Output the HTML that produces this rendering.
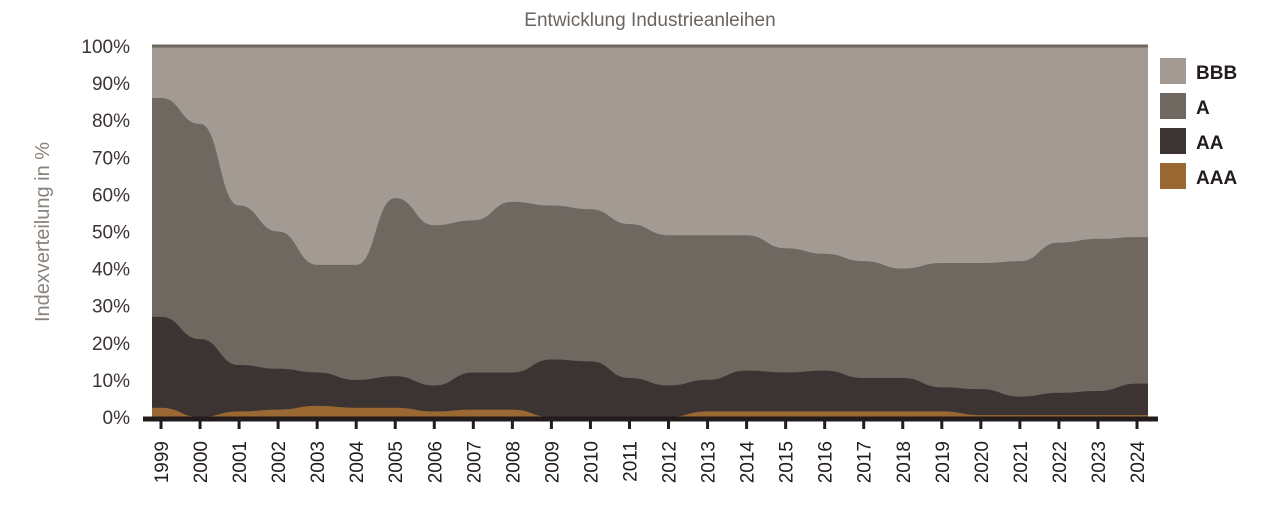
<!DOCTYPE html>
<html><head><meta charset="utf-8"><style>
body{margin:0;background:#fff;}
svg{display:block;font-family:"Liberation Sans",sans-serif;}
</style></head><body>
<svg id="chart" width="1264" height="510">
<text x="650" y="26" text-anchor="middle" font-size="19" fill="#6b6460">Entwicklung Industrieanleihen</text>
<text transform="translate(49,232) rotate(-90)" text-anchor="middle" font-size="20" fill="#8a827c">Indexverteilung in %</text>
<g id="areas"></g><g id="axes"></g><g id="legend"></g>
</svg>
<script>
const years=[1999,2000,2001,2002,2003,2004,2005,2006,2007,2008,2009,2010,2011,2012,2013,2014,2015,2016,2017,2018,2019,2020,2021,2022,2023,2024];
const aaa=[2.5,0,1.5,2,3,2.5,2.5,1.5,2,2,0,0,0,0,1.5,1.5,1.5,1.5,1.5,1.5,1.5,0.5,0.5,0.5,0.5,0.5];
const aa=[24.5,21,12.5,11,9,7.5,8.5,7,10,10,15.5,15,10.5,8.5,8.5,11,10.5,11,9,9,6.5,7,5,6,6.5,8.5];
const a=[59,58,43,37,29,31,48,43.2,41,46,41.5,41,41.5,40.5,39,36.5,33.5,31.5,31.5,29.5,33.5,34,36.5,40.5,41,39.5];
const bbb=[14,21,43,50,59,59,41,48.3,47,42,43,44,48,51,51,51,54.5,56,58,60,58.5,58.5,58,53,52,51.5];
const yTicks=[0,10,20,30,40,50,60,70,80,90,100];
const series=[{n:'BBB',v:bbb,c:'#a29a93'},{n:'A',v:a,c:'#6e6861'},{n:'AA',v:aa,c:'#3c3333'},{n:'AAA',v:aaa,c:'#9a6833'}];
const x0=152,x1=1148;
const xs=i=>161+i*(1137-161)/(years.length-1);
const ys=v=>417-v*3.71;
const NS='http://www.w3.org/2000/svg';
const areas=document.getElementById('areas'),axes=document.getElementById('axes'),leg=document.getElementById('legend');
function mk(t,at,p){const e=document.createElementNS(NS,t);for(const k in at)e.setAttribute(k,at[k]);p.appendChild(e);return e;}
// stacked cumulative
const stack=['AAA','AA','A','BBB'];
const order=[series[3],series[2],series[1],series[0]];
let base=years.map(()=>0);
const layers=[];
order.forEach(s=>{const top=base.map((b,i)=>b+s.v[i]);layers.push({s,lo:base,hi:top});base=top;});
function line(vals){let pts=[[x0,ys(vals[0])]];vals.forEach((v,i)=>pts.push([xs(i),ys(v)]));pts.push([x1,ys(vals[vals.length-1])]);
 let d='M'+pts[0].join(',');
 for(let i=1;i<pts.length;i++){const p=pts[i-1],q=pts[i],m=(p[0]+q[0])/2;d+=` C${m},${p[1]} ${m},${q[1]} ${q[0]},${q[1]}`;}return d;}
layers.slice().reverse().forEach(L=>{
 const d=line(L.hi)+` L${x1},417 L${x0},417 Z`;
 const p=mk('path',{d,fill:L.s.c},areas);
 
 
});
const tl=mk('line',{x1:x0,x2:x1,y1:ys(100),y2:ys(100),stroke:'#6e6861','stroke-width':3},axes);

yTicks.forEach(t=>{const e=mk('text',{x:130,y:ys(t)+7,'text-anchor':'end','font-size':19,fill:'#3c3333'},axes);e.textContent=t+'%';
 });
const bl=mk('line',{x1:143,x2:1158,y1:419,y2:419,stroke:'#231c1c','stroke-width':5},axes);

years.forEach((y,i)=>{const x=xs(i);
 const tk=mk('line',{x1:x,x2:x,y1:419,y2:429,stroke:'#231c1c','stroke-width':3},axes);
 
 const e=mk('text',{transform:`translate(${x+7},441) rotate(-90)`,'text-anchor':'end','font-size':19,fill:'#231c1c'},axes);e.textContent=y;
 });
series.forEach((s,i)=>{const y=58+i*35;
 const r=mk('rect',{x:1160,y,width:26,height:26,fill:s.c},leg);
 
 const t=mk('text',{x:1196,y:y+21,'font-size':19,'font-weight':'bold',fill:'#231c1c'},leg);t.textContent=s.n;
 });
</script>
</body></html>
